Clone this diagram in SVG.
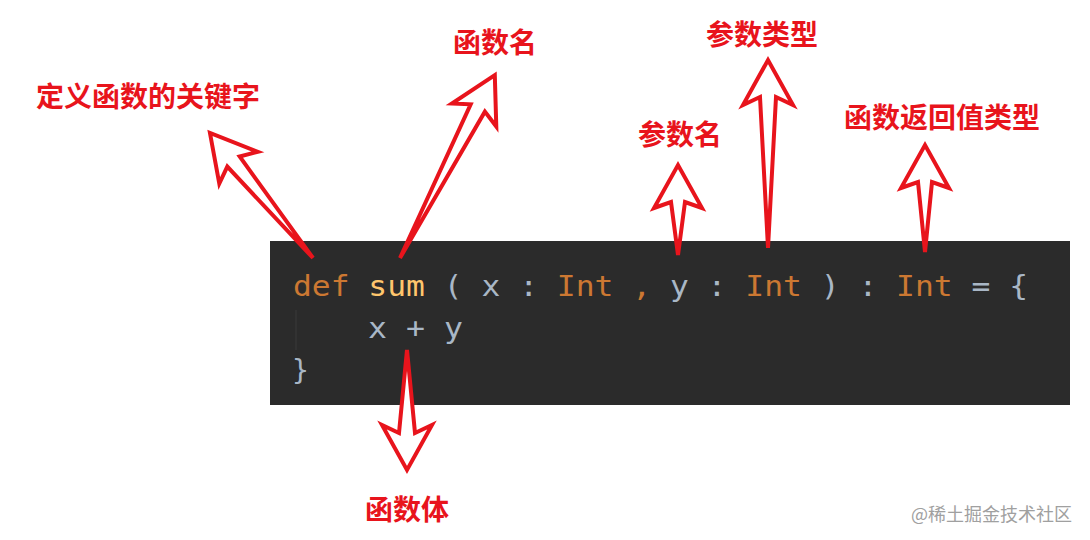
<svg xmlns="http://www.w3.org/2000/svg" width="1090" height="540" viewBox="0 0 1090 540">
<style>
.lbl{font-family:"Noto Sans CJK SC",sans-serif;font-weight:bold;font-size:28px;fill:#e8141c;text-anchor:middle}
.arr{fill:#fff;stroke:#e8141c;stroke-width:4;stroke-linejoin:miter}
.code{font-family:"DejaVu Sans Mono","Liberation Mono",monospace;font-size:28px;fill:#a9b7c6}
.k{fill:#cc7832}.f{fill:#ffc66d}
</style>
<rect width="1090" height="540" fill="#fff"/>
<g id="codebox">
<rect x="270" y="241" width="800" height="164" fill="#2b2b2b"/>
<line x1="296" y1="310" x2="296" y2="350" stroke="#3a3a3a" stroke-width="1"/>
<text class="code" x="293" y="296" textLength="735" lengthAdjust="spacingAndGlyphs" xml:space="preserve"><tspan class="k">def</tspan> <tspan class="f">sum</tspan> ( x : <tspan class="k">Int</tspan> <tspan class="k">,</tspan> y : <tspan class="k">Int</tspan> ) : <tspan class="k">Int</tspan> = {</text>
<text class="code" x="368" y="338" textLength="95" lengthAdjust="spacingAndGlyphs" xml:space="preserve">x + y</text>
<text class="code" x="292" y="380">}</text>
</g>
<g id="connectors">
<polygon class="arr" transform="translate(313,258) rotate(-39.5)" points="0,0 8,-125 25,-117 0,-162 -25,-117 -8,-125"/>
<polygon class="arr" transform="translate(400,258) rotate(27.4)" points="0,0 8,-169 25,-161 0,-206 -25,-161 -8,-169"/>
<polygon class="arr" transform="translate(678,255)" points="0,0 7,-53 24,-47 0,-90 -24,-47 -7,-53"/>
<polygon class="arr" transform="translate(768,248)" points="0,0 8,-151 25,-143 0,-188 -25,-143 -8,-151"/>
<polygon class="arr" transform="translate(925,252)" points="0,0 7,-70 24,-64 0,-107 -24,-64 -7,-70"/>
<polygon class="arr" transform="translate(407,350) rotate(180)" points="0,0 8,-83 25,-75 0,-120 -25,-75 -8,-83"/>
</g>
<g id="n1"><text class="lbl" x="148" y="107">定义函数的关键字</text></g>
<g id="n2"><text class="lbl" x="495" y="53">函数名</text></g>
<g id="n3"><text class="lbl" x="762" y="45">参数类型</text></g>
<g id="n4"><text class="lbl" x="680" y="145">参数名</text></g>
<g id="n5"><text class="lbl" x="942" y="128">函数返回值类型</text></g>
<g id="n6"><text class="lbl" x="407" y="520">函数体</text></g>
<text x="1072" y="521" text-anchor="end" style="font-family:'Noto Sans CJK SC',sans-serif;font-size:18px;fill:#a0a0a0">@稀土掘金技术社区</text>
</svg>
